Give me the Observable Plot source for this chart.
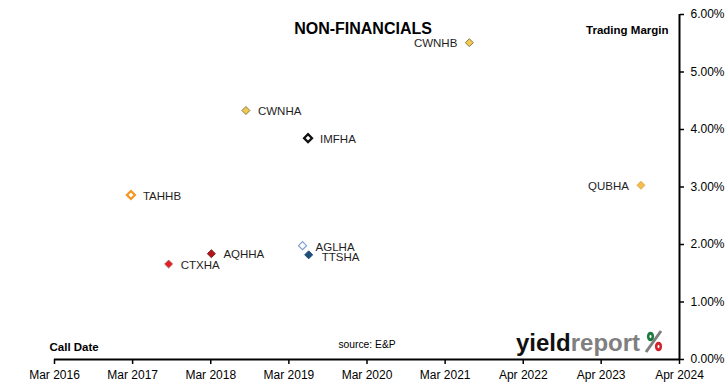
<!DOCTYPE html>
<html>
<head>
<meta charset="utf-8">
<script src="https://cdn.jsdelivr.net/npm/d3@7"></script>
<script src="https://cdn.jsdelivr.net/npm/@observablehq/plot@0.6"></script>
<style>
  html, body { margin: 0; padding: 0; background: #fff; }
  #chart svg { display: block; }
</style>
</head>
<body>
<div id="chart"></div>
<script>
// ---- data ----
const names = ["CWNHB", "CWNHA", "IMFHA", "TAHHB", "QUBHA", "AQHHA", "CTXHA", "AGLHA", "TTSHA"];
const callDates = ["2021-07-23", "2018-08-27", "2019-06-18", "2017-02-27", "2023-10-16", "2018-03-16", "2017-08-25", "2019-05-23", "2019-06-21"];
const margins = [5.51, 4.33, 3.85, 2.86, 3.03, 1.84, 1.66, 1.98, 1.82];
const xTickDates = ["2016-03-01", "2017-03-07", "2018-03-13", "2019-03-19", "2020-03-24", "2021-03-30", "2022-04-05", "2023-04-10", "2024-04-16"];
const yTicks = [0, 1, 2, 3, 4, 5, 6];
const title = "NON-FINANCIALS";
const yTitle = "Trading Margin";
const xTitle = "Call Date";
const source = "source: E&P";

// ---- styles (kept apart from the data) ----
const markerStyle = {
  CWNHB: {fill: "#f2c94f", stroke: "#8a7b4a", w: 1},
  CWNHA: {fill: "#f2c94f", stroke: "#8a7b4a", w: 1},
  IMFHA: {fill: "#ffffff", stroke: "#111111", w: 2.2},
  TAHHB: {fill: "#ffffff", stroke: "#f7941d", w: 2.2},
  QUBHA: {fill: "#f5bb4c", stroke: "#dcae5a", w: 1},
  AQHHA: {fill: "#b3141a", stroke: "#7d1f22", w: 1},
  CTXHA: {fill: "#ea1c22", stroke: "#8a6a6a", w: 0.8},
  AGLHA: {fill: "#ffffff", stroke: "#7f9fd3", w: 1.2},
  TTSHA: {fill: "#1f4e79", stroke: "#1f4e79", w: 1}
};
const leftLabels = new Set(["CWNHB", "QUBHA"]);
const lowLabels = new Set(["AGLHA", "TTSHA"]);

const parse = d3.utcParse("%Y-%m-%d");
const data = names.map((n, i) => ({name: n, date: parse(callDates[i]), margin: margins[i]}));
const xTicks = xTickDates.map(parse);
const xDomain = [xTicks[0], xTicks[xTicks.length - 1]];

const font = "'Liberation Sans', Arial, sans-serif";
const labelFill = "#1e1e1e";

function dots(w) {
  return Plot.dot(data, {
    filter: d => markerStyle[d.name].w === w,
    x: "date", y: "margin", symbol: "diamond2", r: 3.6,
    fill: d => markerStyle[d.name].fill,
    stroke: d => markerStyle[d.name].stroke,
    strokeWidth: w
  });
}
const widths = [...new Set(Object.values(markerStyle).map(s => s.w))];

const chart = Plot.plot({
  width: 727, height: 391,
  marginLeft: 54, marginRight: 48, marginTop: 14, marginBottom: 32,
  style: {fontFamily: font, fontSize: "12px", color: "#000", background: "#fff"},
  x: {type: "utc", domain: xDomain, label: null},
  y: {domain: [0, 6], label: null},
  color: {type: "identity"},
  marks: [
    Plot.axisX({ticks: xTicks, tickFormat: d3.utcFormat("%b %Y"), tickSize: 5, tickPadding: 6, strokeWidth: 1.5, fontSize: 12, label: null}),
    Plot.axisY({anchor: "right", ticks: yTicks, tickFormat: d => d.toFixed(2) + "%", tickSize: 4, tickPadding: 7, strokeWidth: 1.5, fontSize: 12, label: null}),
    Plot.ruleY([0], {stroke: "#000", strokeWidth: 2}),
    Plot.ruleX([xDomain[1]], {stroke: "#000", strokeWidth: 2}),
    ...widths.map(dots),
    Plot.text(data, {filter: d => !leftLabels.has(d.name) && !lowLabels.has(d.name), x: "date", y: "margin", text: "name", dx: 12, dy: 1, textAnchor: "start", fontSize: 11.5, fill: labelFill}),
    Plot.text(data, {filter: d => lowLabels.has(d.name), x: "date", y: "margin", text: "name", dx: 13, dy: 2, textAnchor: "start", fontSize: 11.5, fill: labelFill}),
    Plot.text(data, {filter: d => leftLabels.has(d.name), x: "date", y: "margin", text: "name", dx: -12, dy: 1, textAnchor: "end", fontSize: 11.5, fill: labelFill}),
    Plot.text([title], {frameAnchor: "top", dx: -4, dy: 8, fontSize: 16, fontWeight: "bold", fill: "#000"}),
    Plot.text([yTitle], {frameAnchor: "top-right", dx: -11, dy: 11, textAnchor: "end", fontSize: 11.5, fontWeight: "bold", fill: "#000"}),
    Plot.text([xTitle], {frameAnchor: "bottom-left", dx: -5, dy: -9, textAnchor: "start", fontSize: 11.5, fontWeight: "bold", fill: "#000"}),
    Plot.text([source], {frameAnchor: "bottom", dy: -12, fontSize: 10.3, fill: "#000"})
  ]
});

// yieldreport logo (decoration)
const svg = d3.select(chart);
const logo = svg.append("g").attr("font-family", font).attr("font-weight", "bold").attr("font-size", 24).attr("text-anchor", "start");
const t = logo.append("text").attr("x", 516).attr("y", 351).attr("text-anchor", "start");
t.append("tspan").attr("fill", "#111").text("yield");
t.append("tspan").attr("fill", "#7f7f7f").text("report");
const pct = svg.append("g");
pct.append("line").attr("x1", 646).attr("y1", 352).attr("x2", 661).attr("y2", 331).attr("stroke", "#7f7f7f").attr("stroke-width", 3);
pct.append("ellipse").attr("cx", 650.5).attr("cy", 336.5).attr("rx", 3.6).attr("ry", 4.8).attr("fill", "#1b7a3c");
pct.append("ellipse").attr("cx", 650.5).attr("cy", 336.5).attr("rx", 1).attr("ry", 1.8).attr("fill", "#fff");
pct.append("ellipse").attr("cx", 658.5).attr("cy", 346.5).attr("rx", 3.6).attr("ry", 4.8).attr("fill", "#d2232a");
pct.append("ellipse").attr("cx", 658.5).attr("cy", 346.5).attr("rx", 1).attr("ry", 1.8).attr("fill", "#fff");

document.getElementById("chart").appendChild(chart);
</script>
</body>
</html>
